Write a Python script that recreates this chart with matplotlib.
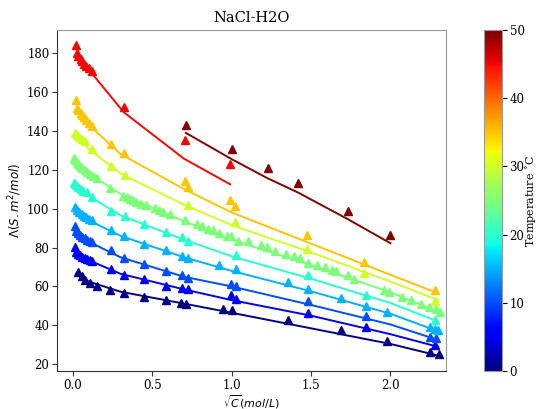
import numpy as np
import matplotlib
matplotlib.use('Agg')
import matplotlib.pyplot as plt
import matplotlib as mpl

mpl.rcParams['font.family'] = 'DejaVu Serif'
mpl.rcParams['mathtext.fontset'] = 'dejavusans'

# temperatures (degC) of each series
temps = [0, 5, 10, 15, 20, 25, 30, 35, 45, 50]

# measured points: sqrt(C) and molar conductivity
x_0 = [0.033, 0.055, 0.075, 0.107, 0.149, 0.233, 0.321, 0.448, 0.589, 0.684, 0.711, 0.945, 1.002, 1.354, 1.69, 1.98, 2.252, 2.304]
y_0 = [67.4, 65.3, 63.5, 61.8, 60.2, 58.3, 56.6, 54.6, 52.9, 51.5, 50.8, 48.6, 47.8, 42.6, 37.5, 32.1, 26.1, 25.1]
x_5 = [0.013, 0.02, 0.03, 0.045, 0.06, 0.075, 0.09, 0.105, 0.118, 0.243, 0.323, 0.447, 0.589, 0.69, 0.725, 0.998, 1.025, 1.48, 1.843, 2.283]
y_5 = [80.2, 77.5, 76.8, 76.0, 75.3, 74.6, 74.0, 73.6, 73.3, 68.8, 66.0, 63.6, 60.5, 59.2, 58.9, 55.4, 53.4, 46.6, 39.3, 29.9]
x_10 = [0.013, 0.02, 0.03, 0.045, 0.06, 0.075, 0.09, 0.105, 0.118, 0.243, 0.323, 0.447, 0.589, 0.69, 0.725, 0.998, 1.025, 1.48, 1.843, 2.252, 2.287]
y_10 = [91.2, 88.5, 87.3, 86.4, 85.6, 84.8, 84.0, 83.3, 82.7, 78.5, 74.7, 71.6, 68.2, 66.0, 64.3, 61.4, 60.5, 52.4, 44.7, 34.1, 33.6]
x_15 = [0.013, 0.025, 0.04, 0.055, 0.07, 0.085, 0.1, 0.118, 0.243, 0.323, 0.447, 0.589, 0.69, 0.725, 0.92, 1.025, 1.354, 1.48, 1.69, 1.843, 1.98, 2.252, 2.281, 2.30]
y_15 = [100.6, 99.2, 98.3, 97.3, 96.4, 95.6, 94.8, 93.9, 88.8, 85.9, 81.9, 78.5, 75.9, 74.5, 71.1, 68.8, 62.3, 58.9, 54.1, 49.8, 46.9, 39.3, 38.4, 37.5]
x_20 = [0.005, 0.02, 0.035, 0.05, 0.065, 0.086, 0.118, 0.243, 0.327, 0.447, 0.589, 0.69, 0.725, 1.025, 1.48, 1.843, 2.281]
y_20 = [113.4, 112.0, 110.9, 109.9, 109.0, 108.3, 106.0, 99.0, 96.1, 92.1, 87.8, 85.3, 83.4, 76.2, 65.7, 55.8, 43.0]
x_25 = [0.005, 0.015, 0.025, 0.035, 0.045, 0.06, 0.075, 0.09, 0.105, 0.128, 0.149, 0.233, 0.316, 0.34, 0.36, 0.38,
        0.40, 0.43, 0.463, 0.516, 0.54, 0.565, 0.61, 0.704, 0.78, 0.81, 0.85, 0.88, 0.92, 0.97, 0.998, 1.04, 1.103,
        1.187, 1.22, 1.27, 1.344, 1.39, 1.428, 1.48, 1.54, 1.585, 1.635, 1.66, 1.73, 1.77, 1.96, 1.99, 2.075, 2.13,
        2.19, 2.245, 2.287, 2.312]
y_25 = [126.2, 125.0, 124.0, 123.0, 122.0, 120.8, 119.8, 118.8, 117.8, 116.8, 115.9, 110.8, 106.6, 105.8, 105.0, 104.2,
        103.3, 102.4, 101.6, 100.3, 99.5, 98.5, 97.2, 94.3, 92.1, 91.0, 89.5, 88.8, 87.5, 86.1, 86.1, 83.6, 83.2,
        81.3, 80.2, 78.4, 76.7, 75.6, 74.5, 72.1, 71.0, 70.0, 68.6, 67.7, 65.7, 64.0, 58.0, 57.1, 54.8, 52.9,
        51.2, 49.5, 48.6, 46.9]
x_30 = [0.013, 0.025, 0.04, 0.055, 0.075, 0.118, 0.243, 0.327, 0.725, 1.023, 1.474, 1.836, 2.281]
y_30 = [138.9, 137.8, 136.6, 135.6, 134.8, 130.4, 121.9, 117.4, 102.1, 93.0, 79.3, 67.1, 52.6]
x_35 = [0.017, 0.023, 0.035, 0.048, 0.06, 0.072, 0.085, 0.1, 0.118, 0.243, 0.323, 0.704, 0.725, 0.99, 1.023, 1.474, 1.836, 2.281]
y_35 = [156.0, 151.7, 150.5, 149.3, 148.0, 146.8, 145.5, 144.0, 142.3, 133.3, 128.4, 114.2, 111.2, 104.5, 101.4, 86.6, 72.8, 58.0]
x_45 = [0.017, 0.023, 0.035, 0.048, 0.06, 0.072, 0.085, 0.1, 0.118, 0.323, 0.704, 0.99]
y_45 = [183.9, 179.9, 178.4, 177.0, 175.8, 174.5, 173.3, 172.0, 170.7, 152.3, 135.2, 122.9]
x_50 = [0.711, 1.002, 1.228, 1.417, 1.731, 2.0]
y_50 = [142.9, 130.4, 121.1, 112.9, 98.9, 86.6]

# fitted curves
fx = [0.02, 0.1, 0.3, 0.7, 1.0, 1.5, 2.0, 2.3]
f_0 = [66.5, 62.5, 57.3, 51.2, 46.5, 38.5, 30.5, 24.5]
f_5 = [79, 73.5, 66.5, 58.5, 53, 45, 35.5, 29]
f_10 = [90, 83, 75, 65, 60, 50.5, 40.5, 32.5]
f_15 = [99.5, 94, 86, 75, 68, 57.5, 46, 37]
f_20 = [112.5, 106.5, 96.5, 84, 75.5, 64, 51.5, 42]
f_25 = [125, 118, 107.5, 93.5, 84, 71, 57, 47]
f_30 = [138, 130.5, 118, 102, 91.5, 77.5, 62.5, 53]
f_35 = [150.5, 143, 128, 110, 98, 82, 66, 56.5]
fx_45 = [0.02, 0.118, 0.32, 0.70, 0.99]
f_45 = [178, 169.6, 149.5, 125.6, 112.5]
fx_50 = [0.711, 1.002, 1.228, 1.417, 1.731, 2.0]
f_50 = [138.9, 125.3, 115.5, 108.3, 94.6, 82.2]

xs = [x_0, x_5, x_10, x_15, x_20, x_25, x_30, x_35, x_45, x_50]
ys = [y_0, y_5, y_10, y_15, y_20, y_25, y_30, y_35, y_45, y_50]
lxs = [fx] * 8 + [fx_45, fx_50]
lys = [f_0, f_5, f_10, f_15, f_20, f_25, f_30, f_35, f_45, f_50]

fig = plt.figure(figsize=(5.38, 4.09), dpi=100)
ax = fig.add_axes([0.106, 0.092, 0.723, 0.835])
cax = fig.add_axes([0.9, 0.092, 0.033, 0.835])

cmap = plt.cm.jet
norm = mpl.colors.Normalize(vmin=0, vmax=50)

for t, x, y, lx, ly in zip(temps, xs, ys, lxs, lys):
    c = cmap(norm(t))
    ax.plot(lx, ly, color=c, linewidth=1.4)
    ax.plot(x, y, '^', color=c, markersize=5.5, linestyle='none')

ax.set_xlim(-0.1, 2.35)
ax.set_ylim(16.4, 191.8)
ax.set_xticks([0.0, 0.5, 1.0, 1.5, 2.0])
ax.set_yticks([20, 40, 60, 80, 100, 120, 140, 160, 180])
ax.tick_params(labelsize=8.5, color='#333333', length=3.5, pad=2)
ax.set_title('NaCl-H2O', fontsize=10.5)
ax.set_xlabel(r'$\sqrt{C}(mol/L)$', fontsize=8)
ax.xaxis.set_label_coords(0.5, -0.063)
ax.set_ylabel(r'$\Lambda(S.m^2/mol)$', fontsize=8.5, labelpad=2)
for s in ['left', 'bottom']:
    ax.spines[s].set_color('#333333')
for s in ['top', 'right']:
    ax.spines[s].set_color('#999999')

sm = mpl.cm.ScalarMappable(norm=norm, cmap=cmap)
cb = fig.colorbar(sm, cax=cax)
cb.set_ticks([0, 10, 20, 30, 40, 50])
cb.outline.set_edgecolor('#999999')
cb.set_label('Temperature $^{\\circ}$C', fontsize=8, labelpad=0)
cb.ax.tick_params(labelsize=8.5, length=3.5, pad=2)

fig.savefig('out.png', dpi=100)
